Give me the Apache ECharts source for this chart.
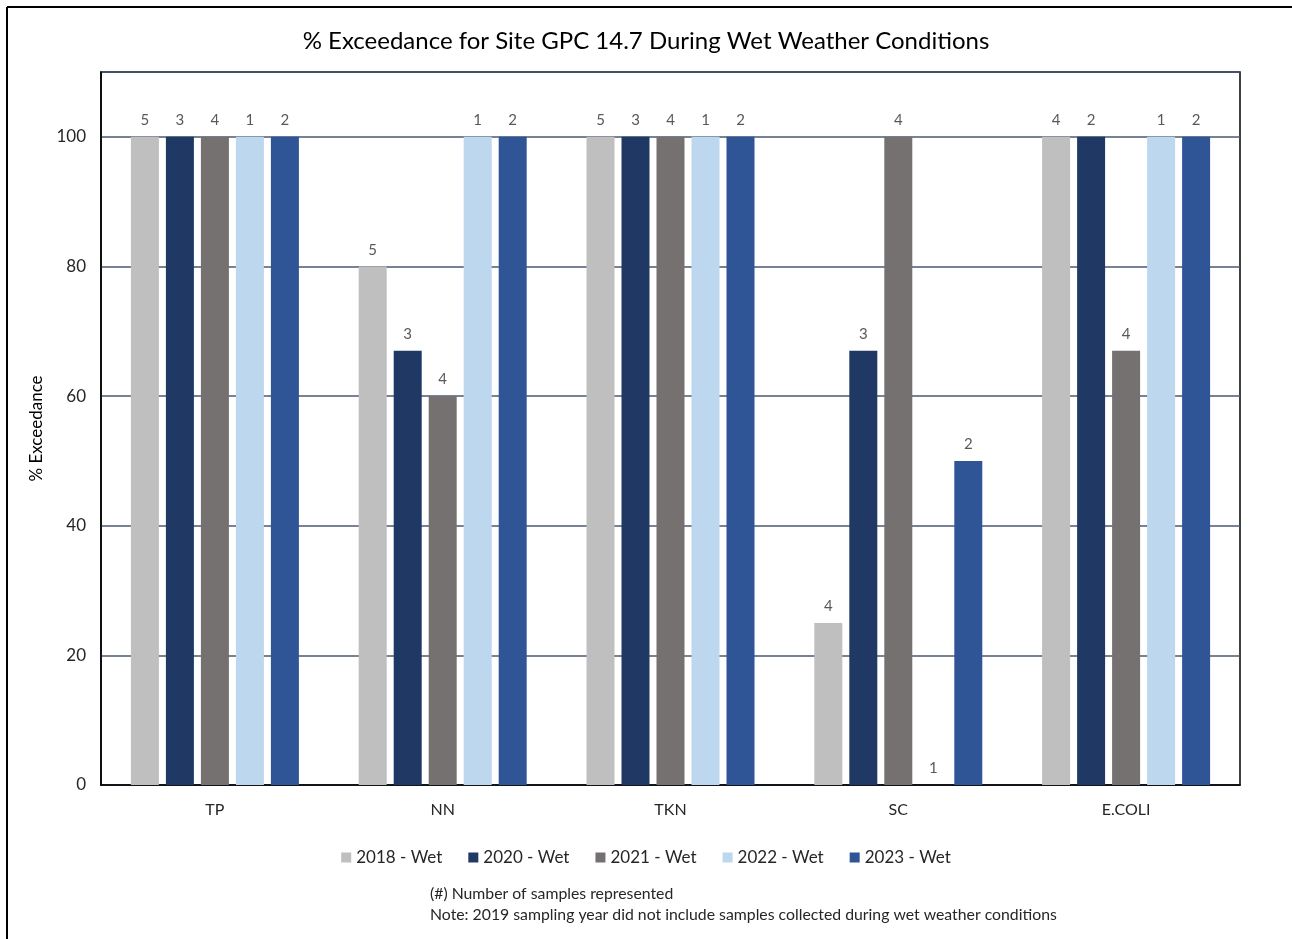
<!DOCTYPE html>
<html>
<head>
<meta charset="utf-8">
<title>% Exceedance for Site GPC 14.7 During Wet Weather Conditions</title>
<script src="https://cdn.jsdelivr.net/npm/echarts@6/dist/echarts.min.js"></script>
<style>
  html, body { margin: 0; padding: 0; background: #fff; }
  #chart { width: 1292px; height: 939px; }
</style>
</head>
<body>
<div id="chart"></div>
<script>
// Parameters sampled at the site
const categories = ['TP', 'NN', 'TKN', 'SC', 'E.COLI'];

// % exceedance per year
const pct2018 = [100, 80, 100, 25, 100];
const pct2020 = [100, 67, 100, 67, 100];
const pct2021 = [100, 60, 100, 100, 67];
const pct2022 = [100, 100, 100, 0, 100];
const pct2023 = [100, 100, 100, 50, 100];

// Number of samples behind each bar
const n2018 = [5, 5, 5, 4, 4];
const n2020 = [3, 3, 3, 3, 2];
const n2021 = [4, 4, 4, 4, 4];
const n2022 = [1, 1, 1, 1, 1];
const n2023 = [2, 2, 2, 2, 2];

const yTicks = [0, 20, 40, 60, 80, 100];

const seriesDefs = [
  { name: '2018 - Wet', values: pct2018, counts: n2018, color: '#BFBFBF' },
  { name: '2020 - Wet', values: pct2020, counts: n2020, color: '#1F3864' },
  { name: '2021 - Wet', values: pct2021, counts: n2021, color: '#767171' },
  { name: '2022 - Wet', values: pct2022, counts: n2022, color: '#BDD7EE' },
  { name: '2023 - Wet', values: pct2023, counts: n2023, color: '#2F5597' }
];

const FONT = 'Lato, "Liberation Sans", sans-serif';
const chart = echarts.init(document.getElementById('chart'), null, { renderer: 'canvas' });

chart.setOption({
  backgroundColor: '#ffffff',
  animation: false,
  title: {
    text: '% Exceedance for Site GPC 14.7 During Wet Weather Conditions',
    left: 'center',
    top: 24,
    textStyle: { fontFamily: FONT, fontSize: 24, fontWeight: 'normal', color: '#000000' }
  },
  grid: {
    left: 101, top: 72, right: 52, bottom: 154,
    show: true, borderColor: '#000000', borderWidth: 1.5
  },
  legend: {
    top: 844,
    left: 'center',
    itemWidth: 10,
    itemHeight: 10,
    itemGap: 26,
    icon: 'rect',
    textStyle: { fontFamily: FONT, fontSize: 17, color: '#262626' },
    data: seriesDefs.map(s => s.name)
  },
  xAxis: {
    type: 'category',
    data: categories,
    axisLine: { lineStyle: { color: '#000000', width: 1.5 } },
    axisTick: { show: false },
    axisLabel: { fontFamily: FONT, fontSize: 16, color: '#262626', margin: 17 }
  },
  yAxis: {
    type: 'value',
    min: 0,
    max: 110,
    interval: 20,
    name: '% Exceedance',
    nameLocation: 'middle',
    nameGap: 56,
    nameTextStyle: { fontFamily: FONT, fontSize: 17, color: '#000000' },
    axisLine: { show: true, lineStyle: { color: '#000000', width: 1.5 } },
    axisTick: { show: false },
    axisLabel: {
      fontFamily: FONT, fontSize: 17, color: '#262626', margin: 15,
      formatter: v => (yTicks.includes(v) ? String(v) : '')
    },
    splitLine: { lineStyle: { color: '#4A5A72', width: 1.5 } }
  },
  graphic: [
    // page frame along the left and top edges
    { type: 'line', shape: { x1: 7, y1: 7, x2: 7, y2: 939 }, style: { stroke: '#000', lineWidth: 2 } },
    { type: 'line', shape: { x1: 7, y1: 7, x2: 1292, y2: 7 }, style: { stroke: '#000', lineWidth: 2 } },
    {
      type: 'text', left: 430, top: 886,
      style: { text: '(#) Number of samples represented', font: '15.8px ' + FONT, fill: '#262626' }
    },
    {
      type: 'text', left: 430, top: 907,
      style: { text: 'Note: 2019 sampling year did not include samples collected during wet weather conditions', font: '15.8px ' + FONT, fill: '#262626' }
    }
  ],
  series: seriesDefs.map(s => ({
    name: s.name,
    type: 'bar',
    data: s.values,
    barWidth: 28,
    barGap: '25%',
    itemStyle: { color: s.color },
    label: {
      show: true,
      position: 'top',
      distance: 9,
      fontFamily: FONT,
      fontSize: 15,
      color: '#595959',
      formatter: p => String(s.counts[p.dataIndex])
    }
  }))
});
</script>
</body>
</html>
